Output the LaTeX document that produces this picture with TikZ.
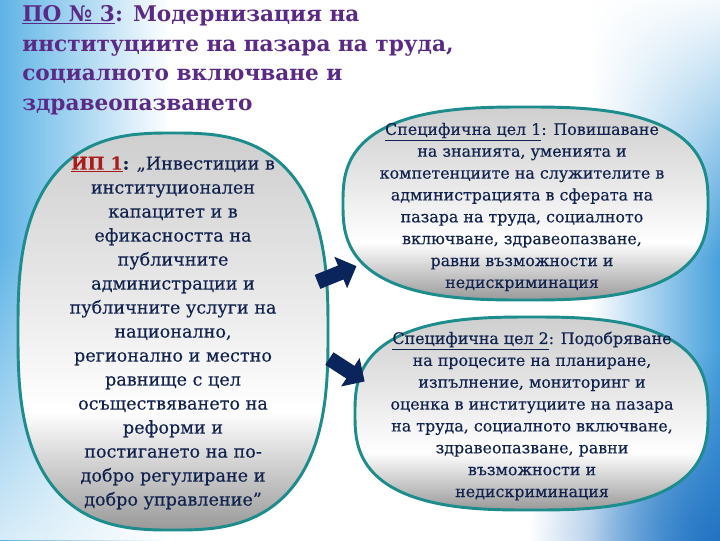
\documentclass[tikz,border=0pt]{standalone}
\usepackage{fontspec}
\setmainfont{DejaVu Serif}
\newfontfamily\ovalfont{DejaVu Serif}[FakeBold=0.35]
\usetikzlibrary{fadings}

\definecolor{titlepurple}{RGB}{91,42,134}
\definecolor{navytext}{RGB}{18,34,78}
\definecolor{ipred}{RGB}{170,28,28}
\definecolor{tealborder}{RGB}{28,140,140}
\definecolor{arrownavy}{RGB}{10,36,92}
\definecolor{bgblue}{RGB}{95,180,230}
\definecolor{bgblueB}{RGB}{70,160,220}
\definecolor{bgblueC}{RGB}{35,115,195}

\pgfdeclareverticalshading{ovalshade}{100bp}{color(0bp)=(gray!80); color(25bp)=(gray!80); color(40bp)=(white); color(55bp)=(gray!18); color(75bp)=(gray!38); color(100bp)=(gray!38)}

\tikzfading[name=fadeDown, top color=transparent!100, bottom color=transparent!25]
\tikzfading[name=fadeUp, top color=transparent!5, bottom color=transparent!100]
\tikzfading[name=fadeRad, inner color=transparent!0, outer color=transparent!100]

\tikzset{
  ovalline/.style={draw=tealborder, line width=2.2pt, shading=ovalshade},
  ovaltext/.style={text=navytext, align=center, inner sep=0pt},
  blockarrow/.style={fill=arrownavy, draw=none},
  titletext/.style={anchor=north west, align=left, text=titlepurple, inner sep=0pt,
    font=\bfseries\fontsize{16.2}{22.3}\selectfont},
}

% superellipse: #1,#2 centre, #3,#4 half axes
\newcommand{\superoval}[4]{plot[domain=1.25:358.75, samples=144, smooth cycle]
  ({#1+#3*sign(cos(\x))*pow(abs(cos(\x)),0.727)}, {#2+#4*sign(sin(\x))*pow(abs(sin(\x)),0.727)})}
\newcommand{\blockarrowpath}{(-21,-7.5) -- (4,-7.5) -- (4,-17) -- (21,0) -- (4,17) -- (4,7.5) -- (-21,7.5) -- cycle}

\begin{document}
\begin{tikzpicture}[x=0.75pt,y=-0.75pt]
\useasboundingbox (0,0) rectangle (720,540);

% background
\fill[white] (0,0) rectangle (720,540);
\shade[left color=bgblue, right color=white] (0,0) rectangle (170,540);
\fill[white, path fading=fadeDown] (0,250) rectangle (170,540);
\shade[left color=white, right color=bgblueB] (590,0) rectangle (720,540);
\fill[white, path fading=fadeUp] (590,0) rectangle (720,260);
\fill[bgblueC, path fading=fadeRad] (720,540) circle[radius=190];

% title
\node[titletext] (title) at (22,5) {\underline{ПО № 3}: Модернизация на\\ институциите на пазара на труда,\\ социалното включване и\\ здравеопазването};

% ovals
\path[ovalline] \superoval{173}{331.5}{155}{198.5};
\path[ovalline] \superoval{525.5}{203.5}{182.5}{96.5};
\path[ovalline] \superoval{531.5}{413.5}{176.5}{96.5};

% left oval text
\node[ovaltext, font=\ovalfont\fontsize{13.2}{18}\selectfont] (ip) at (173,333)
  {\textcolor{ipred}{\textbf{\underline{ИП 1}}}\textbf{:} „Инвестиции в\\ институционален\\ капацитет и в\\ ефикасността на\\ публичните\\ администрации и\\ публичните услуги на\\ национално,\\ регионално и местно\\ равнище с цел\\ осъществяването на\\ реформи и\\ постигането на по-\\ добро регулиране и\\ добро управление”};

% right oval texts
\node[ovaltext, font=\ovalfont\fontsize{11.9}{16.4}\selectfont] (sc1) at (522,207)
  {\underline{Специфична цел 1}: Повишаване\\ на знанията, уменията и\\ компетенциите на служителите в\\ администрацията в сферата на\\ пазара на труда, социалното\\ включване, здравеопазване,\\ равни възможности и\\ недискриминация};

\node[ovaltext, font=\ovalfont\fontsize{11.9}{16.4}\selectfont] (sc2) at (532,416)
  {\underline{Специфична цел 2}: Подобряване\\ на процесите на планиране,\\ изпълнение, мониторинг и\\ оценка в институциите на пазара\\ на труда, социалното включване,\\ здравеопазване, равни\\ възможности и\\ недискриминация};

% block arrows
\begin{scope}[shift={(337,274)}, rotate=22]
  \fill[blockarrow] \blockarrowpath;
\end{scope}
\begin{scope}[shift={(347,370)}, rotate=-33]
  \fill[blockarrow] \blockarrowpath;
\end{scope}
\end{tikzpicture}
\end{document}
